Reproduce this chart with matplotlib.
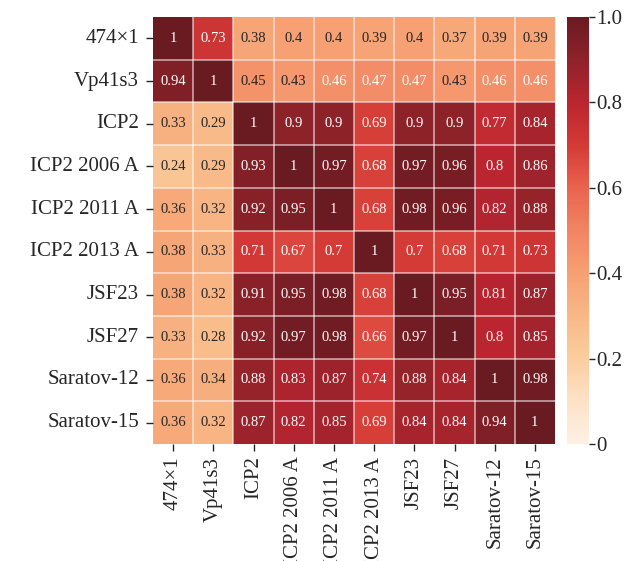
import numpy as np
import matplotlib
matplotlib.use("Agg")
import matplotlib.pyplot as plt
import seaborn as sns
from matplotlib.colors import LinearSegmentedColormap

labels = ["474×1", "Vp41s3", "ICP2", "ICP2 2006 A", "ICP2 2011 A",
          "ICP2 2013 A", "JSF23", "JSF27", "Saratov-12", "Saratov-15"]

row_474 = [1, 0.73, 0.38, 0.4, 0.4, 0.39, 0.4, 0.37, 0.39, 0.39]
row_vp41 = [0.94, 1, 0.45, 0.43, 0.46, 0.47, 0.47, 0.43, 0.46, 0.46]
row_icp2 = [0.33, 0.29, 1, 0.9, 0.9, 0.69, 0.9, 0.9, 0.77, 0.84]
row_2006 = [0.24, 0.29, 0.93, 1, 0.97, 0.68, 0.97, 0.96, 0.8, 0.86]
row_2011 = [0.36, 0.32, 0.92, 0.95, 1, 0.68, 0.98, 0.96, 0.82, 0.88]
row_2013 = [0.38, 0.33, 0.71, 0.67, 0.7, 1, 0.7, 0.68, 0.71, 0.73]
row_jsf23 = [0.38, 0.32, 0.91, 0.95, 0.98, 0.68, 1, 0.95, 0.81, 0.87]
row_jsf27 = [0.33, 0.28, 0.92, 0.97, 0.98, 0.66, 0.97, 1, 0.8, 0.85]
row_sar12 = [0.36, 0.34, 0.88, 0.83, 0.87, 0.74, 0.88, 0.84, 1, 0.98]
row_sar15 = [0.36, 0.32, 0.87, 0.82, 0.85, 0.69, 0.84, 0.84, 0.94, 1]

cbar_ticks = [0, 0.2, 0.4, 0.6, 0.8, 1.0]
cbar_ticklabels = ["0", "0.2", "0.4", "0.6", "0.8", "1.0"]

data = np.array([row_474, row_vp41, row_icp2, row_2006, row_2011,
                 row_2013, row_jsf23, row_jsf27, row_sar12, row_sar15])

plt.rcParams['font.family'] = ['Liberation Serif', 'DejaVu Serif']

cmap = LinearSegmentedColormap.from_list("custom", [
    (0.0, "#fdf1e4"), (0.1, "#fde2c6"), (0.2, "#fbcd9e"), (0.3, "#f8b886"),
    (0.4, "#f6a073"), (0.5, "#f28562"), (0.6, "#e9634e"), (0.7, "#d43a36"),
    (0.8, "#bb2530"), (0.9, "#8f2229"), (1.0, "#6a1a21")])

fig = plt.figure(figsize=(6.35, 5.61), dpi=100)
ax = fig.add_axes([153/635, 1 - 444/561, 402/635, 427/561])
cax = fig.add_axes([567/635, 1 - 444/561, 22/635, 427/561])

sns.heatmap(data, ax=ax, cbar_ax=cax, cmap=cmap, vmin=0, vmax=1,
            annot=True, fmt=".2g", annot_kws={"fontsize": 10.5},
            linewidths=0,
            xticklabels=labels, yticklabels=labels)

n = len(labels)
for i in range(1, n):
    ax.axhline(i, color='white', alpha=0.6, lw=1.2)
    ax.axvline(i, color='white', alpha=0.6, lw=1.2)

ax.tick_params(axis='both', length=5, width=1, color='#262626',
               labelsize=15, labelcolor='#262626')
ax.tick_params(axis='y', pad=5)
ax.tick_params(axis='x', pad=4)
ax.tick_params(axis='both', left=True, bottom=True)
plt.setp(ax.get_xticklabels(), rotation=90)
plt.setp(ax.get_yticklabels(), rotation=0)

cax.set_yticks(cbar_ticks)
cax.set_yticklabels(cbar_ticklabels)
cax.tick_params(length=4, width=1, color='#262626', labelsize=15,
                labelcolor='#262626', pad=1.5)
for s in cax.spines.values():
    s.set_visible(False)

fig.savefig("out.png", dpi=100)
